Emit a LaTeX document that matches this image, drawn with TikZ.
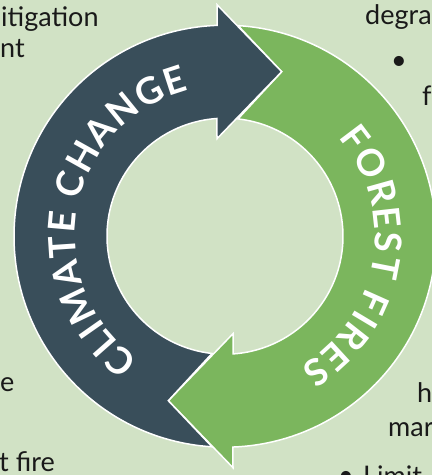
\documentclass[tikz,border=0pt]{standalone}
\usepackage{fontspec}
\setmainfont{Lato}
\usetikzlibrary{decorations.text}
\definecolor{paleleaf}{RGB}{209,226,197}
\definecolor{slate}{RGB}{57,78,90}
\definecolor{leaf}{RGB}{123,182,93}
\newcommand\bandfont{\fontsize{37}{37}\selectfont\bfseries}

\begin{document}
\begin{tikzpicture}[x=1pt,y=1pt,
    side/.style={anchor=base west,inner sep=0pt,font=\fontsize{27}{27}\selectfont,text=black!90},
    band/.style={draw=white,line width=1.5pt,line join=miter},
    bandtext/.style={decorate,decoration={text along path,text color=white,text align=fit to path,text={|\bandfont|#1}}}]
    \useasboundingbox (0,0) rectangle (432,475);
    \fill[paleleaf] (0,0) rectangle (432,475);
    \clip (0,0) rectangle (432,475);
    % the two arrows of the cycle
    \begin{scope}[shift={(225,238.8)}]
        \filldraw[leaf,band,rotate=180] (266.47:211) arc[start angle=266.47,end angle=92.17,radius=211]
            -- (-8,231.5) -- (56.7,164.5) -- (-8,97.5) -- (93.89:118)
            arc[start angle=93.89,end angle=263.67,radius=118] -- (-56.7,-164.5) -- cycle;
        \filldraw[slate,band] (266.47:211) arc[start angle=266.47,end angle=92.17,radius=211]
            -- (-8,231.5) -- (56.7,164.5) -- (-8,97.5) -- (93.89:118)
            arc[start angle=93.89,end angle=263.67,radius=118] -- (-56.7,-164.5) -- cycle;
        \path[bandtext=CLIMATE CHANGE] (235:150) arc[start angle=235,end angle=104,radius=150];
        \path[bandtext=FOREST FIRES] (41:150) arc[start angle=41,end angle=-60,radius=150];
    \end{scope}
    % cut-off text at the sides
    \node[side] (mitig) at (1,448) {itigation};
    \node[side] (nt) at (0,417) {nt};
    \node[side] (lefte) at (0,83) {e};
    \node[side] (tfire) at (-1,3) {t fire};
    \node[side] (degra) at (365,450) {degra};
    \node[side,anchor=center] (dotone) at (399,412) {•};
    \node[side] (fo) at (422,369) {fo};
    \node[side] (h) at (417,72) {h};
    \node[side] (mar) at (388,38) {mar};
    \node[side,anchor=center] (dottwo) at (346,-3) {•};
    \node[side] (limit) at (363,-10) {Limit};
\end{tikzpicture}
\end{document}
